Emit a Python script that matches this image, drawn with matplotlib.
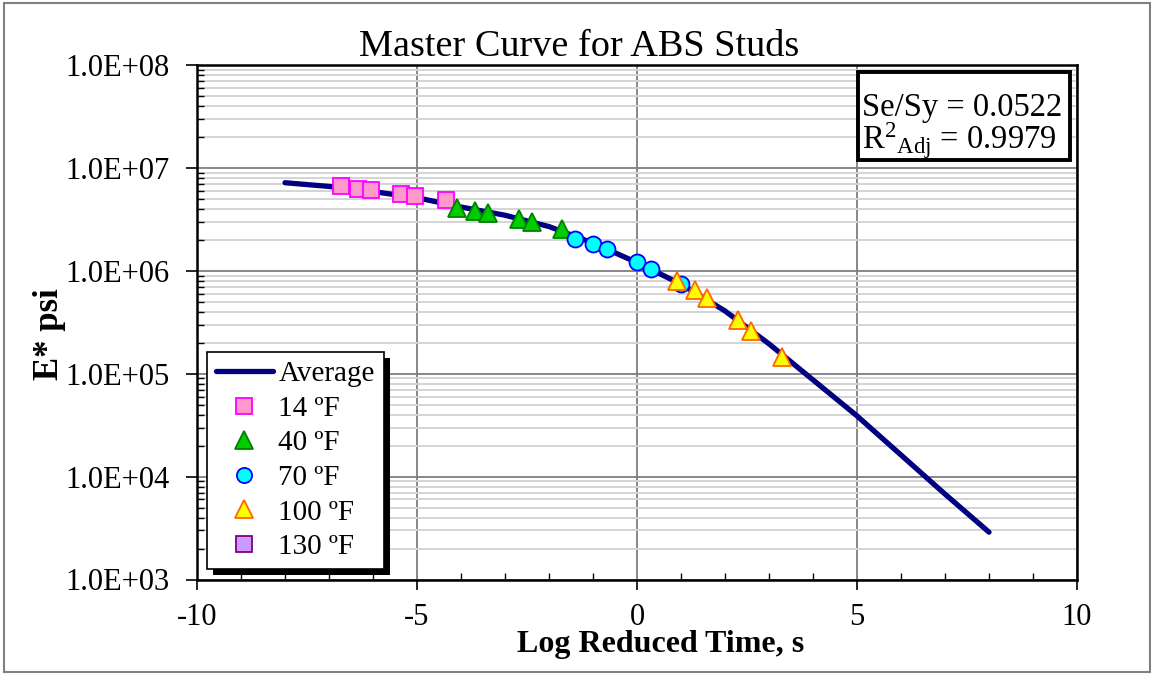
import numpy as np
import matplotlib
matplotlib.use("Agg")
import matplotlib.pyplot as plt
from matplotlib.ticker import FixedLocator, FuncFormatter, LogLocator, NullFormatter
from matplotlib.patches import Rectangle

plt.rcParams['font.family'] = ['Liberation Serif', 'DejaVu Serif']
plt.rcParams['mathtext.fontset'] = 'custom'
plt.rcParams['mathtext.rm'] = 'Liberation Serif'
plt.rcParams['mathtext.it'] = 'Liberation Serif:italic'
plt.rcParams['axes.unicode_minus'] = False

# ---- data ----
avg_x = [-8, -7, -6, -5, -4, -3, -2, -1, 0, 1, 2, 3, 4, 5, 6, 7, 8]
avg_logE = [6.856, 6.82, 6.77, 6.71, 6.62, 6.54, 6.43, 6.27, 6.08, 5.87, 5.61,
            5.29, 4.94, 4.59, 4.21, 3.83, 3.46]

t14_x = [-6.73, -6.34, -6.04, -5.36, -5.04, -4.34]
t14_E = [6.67e6, 6.28e6, 6.10e6, 5.57e6, 5.37e6, 4.91e6]
t40_x = [-4.09, -3.69, -3.39, -2.69, -2.38, -1.70]
t40_E = [4.05e6, 3.84e6, 3.67e6, 3.16e6, 2.98e6, 2.55e6]
t70_x = [-1.40, -1.00, -0.69, -0.01, 0.31, 0.99]
t70_E = [2.04e6, 1.81e6, 1.63e6, 1.21e6, 1.04e6, 7.39e5]
t100_x = [0.90, 1.31, 1.60, 2.29, 2.60, 3.29]
t100_E = [8.02e5, 6.50e5, 5.40e5, 3.33e5, 2.62e5, 1.46e5]
t130_x = []
t130_E = []

legend_labels = ["Average", "14 ºF", "40 ºF", "70 ºF", "100 ºF", "130 ºF"]
xticks = [-10, -5, 0, 5, 10]
title = "Master Curve for ABS Studs"
xlabel = "Log Reduced Time, s"
ylabel = "E* psi"
stat_lines = ["Se/Sy = 0.0522", "R$^{2}{}_{\\mathrm{Adj}}$ = 0.9979"]

# ---- figure ----
W, H = 1151, 677
fig = plt.figure(figsize=(W / 100, H / 100), dpi=100)
L, R, T, B = 197, 1077, 65, 579.5
ax = fig.add_axes([L / W, 1 - B / H, (R - L) / W, (B - T) / H])

ax.set_yscale('log')
ax.set_xlim(-10, 10)
ax.set_ylim(1e3, 1e8)

ax.grid(which='minor', axis='y', color='#d4d4d4', lw=1.4, zorder=0)
ax.grid(which='major', axis='both', color='#7f7f7f', lw=1.3, zorder=0)
ax.set_axisbelow(True)

line, = ax.plot(avg_x, [10 ** v for v in avg_logE], color='#000080', lw=3.8,
                solid_capstyle='round', zorder=3, label=legend_labels[0])
ms = 11.5
s1, = ax.plot(t14_x, t14_E, 's', ms=ms, mfc='#ff99cc', mec='#ff00ff', mew=1.3,
              zorder=4, label=legend_labels[1])
s2, = ax.plot(t40_x, t40_E, '^', ms=ms + 1.5, mfc='#00cc00', mec='#008000', mew=1.3,
              zorder=4, label=legend_labels[2])
s3, = ax.plot(t70_x, t70_E, 'o', ms=ms, mfc='#00ffff', mec='#0000ff', mew=1.3,
              zorder=4, label=legend_labels[3])
s4, = ax.plot(t100_x, t100_E, '^', ms=ms + 1.5, mfc='#ffff00', mec='#ff6600', mew=1.3,
              zorder=4, label=legend_labels[4])
s5, = ax.plot(t130_x, t130_E, 's', ms=ms, mfc='#cc99ff', mec='#800080', mew=1.3,
              zorder=4, label=legend_labels[5])

for sp in ax.spines.values():
    sp.set_color('black')
    sp.set_linewidth(1.8)

# ticks
ax.xaxis.set_major_locator(FixedLocator(xticks))
ax.xaxis.set_minor_locator(FixedLocator(list(range(-10, 11))))
ax.xaxis.set_major_formatter(FuncFormatter(lambda v, p: f"{int(v)}"))
ax.yaxis.set_major_locator(LogLocator(base=10, numticks=20))
ax.yaxis.set_minor_locator(LogLocator(base=10, subs=np.arange(2, 10), numticks=20))
ax.yaxis.set_major_formatter(FuncFormatter(lambda v, p: f"{v:.1E}"))
ax.yaxis.set_minor_formatter(NullFormatter())

ax.tick_params(axis='x', which='major', direction='out', length=7, width=1.2,
               labelsize=22, pad=10)
ax.tick_params(axis='x', which='minor', direction='in', length=5, width=1.0)
ax.tick_params(axis='y', which='major', direction='out', length=8, width=1.2,
               labelsize=22, pad=12)
ax.tick_params(axis='y', which='minor', direction='in', length=5, width=1.0)

# title & labels
fig.text(579 / W, 1 - 56 / H, title, ha='center', va='baseline', fontsize=27.5)
fig.text(661 / W, 1 - 652 / H, xlabel, ha='center', va='baseline', fontsize=23,
         fontweight='bold')
fig.text(50 / W, 1 - 334 / H, ylabel, ha='center', va='center', fontsize=25,
         fontweight='bold', rotation=90)

# legend
leg = ax.legend(handles=[line, s1, s2, s3, s4, s5], loc='lower left',
                bbox_to_anchor=((207 - L) / (R - L), (B - 569) / (B - T)),
                borderaxespad=0, fontsize=21, frameon=True, fancybox=False,
                edgecolor='black', framealpha=1, handlelength=1.95,
                handletextpad=0.2, labelspacing=0.28, borderpad=0.3,
                markerscale=0.95)
leg.get_frame().set_linewidth(1.2)
leg.set_zorder(6)

# stats box
ax.text((862 - L) / (R - L), (B - 116) / (B - T), stat_lines[0],
        transform=ax.transAxes, fontsize=23.5, ha='left', va='baseline', zorder=7)
ax.text((862 - L) / (R - L), (B - 149) / (B - T), stat_lines[1],
        transform=ax.transAxes, fontsize=23.5, ha='left', va='baseline', zorder=7)
ax.add_patch(Rectangle(((858 - L) / (R - L), (B - 160) / (B - T)),
                       (1070 - 858) / (R - L), (160 - 72) / (B - T),
                       transform=ax.transAxes, facecolor='white', edgecolor='black',
                       lw=2.8, zorder=6.5, clip_on=False))

# legend shadow
fig.canvas.draw()
bb = leg.get_window_extent()
inv = ax.transAxes.inverted()
(x0, y0) = inv.transform((bb.x0 + 6, bb.y0 - 6))
(x1, y1) = inv.transform((bb.x1 + 6, bb.y1 - 6))
ax.add_patch(Rectangle((x0, y0), x1 - x0, y1 - y0, transform=ax.transAxes,
                       facecolor='black', edgecolor='none', zorder=5.5,
                       clip_on=False))

# figure border
fig.add_artist(Rectangle((4 / W, 1 - 672 / H), (1150 - 4) / W, (672 - 3) / H,
                         transform=fig.transFigure, fill=False,
                         edgecolor='#808080', lw=1.5))

fig.savefig("out.png", dpi=100)
